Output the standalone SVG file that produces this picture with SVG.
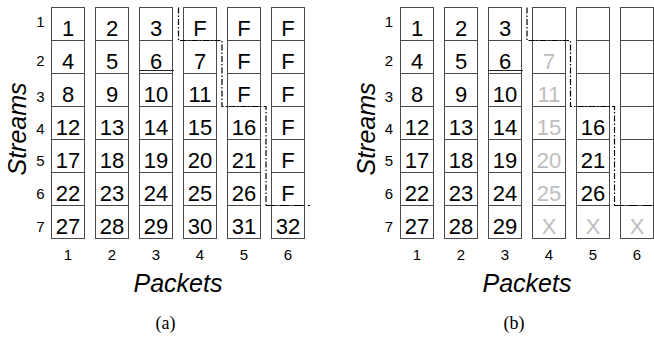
<svg xmlns="http://www.w3.org/2000/svg" width="654" height="337" viewBox="0 0 654 337">
<style>
  .cell { fill: #fff; stroke: #4a4a4a; stroke-width: 1; }
  .num { font-family: "Liberation Sans", Arial, sans-serif; font-size: 22px; fill: #000; text-anchor: middle; }
  .dim { fill: #bdbdbd; }
  .idx { font-family: "Liberation Sans", Arial, sans-serif; font-size: 15px; fill: #000; }
  .row { text-anchor: end; }
  .col { text-anchor: middle; }
  .axis { font-family: "Liberation Sans", Arial, sans-serif; font-size: 25px; font-style: italic; fill: #000; text-anchor: middle; }
  .cap { font-family: "Liberation Serif", "Times New Roman", serif; font-size: 18px; fill: #000; text-anchor: middle; }
  .step { fill: none; stroke: #000; stroke-width: 1.2; stroke-dasharray: 6 2 1.5 2; }
  .tail { fill: none; stroke: #000; stroke-width: 1.2; stroke-dasharray: 9 5; }
  .tick { stroke: #222; stroke-width: 1; }
</style>
<defs>
  <!-- one packet column: seven stream slots -->
  <g id="slots">
    <rect class="cell" x="0" y="7.5" width="33" height="33"/>
    <rect class="cell" x="0" y="40.5" width="33" height="33"/>
    <rect class="cell" x="0" y="73.5" width="33" height="33"/>
    <rect class="cell" x="0" y="106.5" width="33" height="33"/>
    <rect class="cell" x="0" y="139.5" width="33" height="33"/>
    <rect class="cell" x="0" y="172.5" width="33" height="33"/>
    <rect class="cell" x="0" y="205.5" width="33" height="33"/>
  </g>
</defs>

<!-- ===== Panel (a) ===== -->
<g id="a-rows" class="idx row">
  <text x="44.5" y="26.7">1</text>
  <text x="44.5" y="66">2</text>
  <text x="44.5" y="101.7">3</text>
  <text x="44.5" y="133.5">4</text>
  <text x="44.5" y="166.3">5</text>
  <text x="44.5" y="199.3">6</text>
  <text x="44.5" y="232">7</text>
</g>
<g id="a-col1">
  <use href="#slots" x="51.5"/>
  <g class="num">
    <text x="68" y="35.7">1</text><text x="68" y="68.7">4</text><text x="68" y="101.7">8</text>
    <text x="68" y="134.7">12</text><text x="68" y="167.7">17</text><text x="68" y="200.7">22</text><text x="68" y="233.7">27</text>
  </g>
</g>
<g id="a-col2">
  <use href="#slots" x="95.5"/>
  <g class="num">
    <text x="112" y="35.7">2</text><text x="112" y="68.7">5</text><text x="112" y="101.7">9</text>
    <text x="112" y="134.7">13</text><text x="112" y="167.7">18</text><text x="112" y="200.7">23</text><text x="112" y="233.7">28</text>
  </g>
</g>
<g id="a-col3">
  <use href="#slots" x="139.5"/>
  <line class="tick" x1="139" y1="70.5" x2="174" y2="70.5"/>
  <g class="num">
    <text x="156" y="35.7">3</text><text x="156" y="68.7">6</text><text x="156" y="101.7">10</text>
    <text x="156" y="134.7">14</text><text x="156" y="167.7">19</text><text x="156" y="200.7">24</text><text x="156" y="233.7">29</text>
  </g>
</g>
<g id="a-col4">
  <use href="#slots" x="183.5"/>
  <g class="num">
    <text x="200" y="35.7">F</text><text x="200" y="68.7">7</text><text x="200" y="101.7">11</text>
    <text x="200" y="134.7">15</text><text x="200" y="167.7">20</text><text x="200" y="200.7">25</text><text x="200" y="233.7">30</text>
  </g>
</g>
<g id="a-col5">
  <use href="#slots" x="227.5"/>
  <g class="num">
    <text x="244" y="35.7">F</text><text x="244" y="68.7">F</text><text x="244" y="101.7">F</text>
    <text x="244" y="134.7">16</text><text x="244" y="167.7">21</text><text x="244" y="200.7">26</text><text x="244" y="233.7">31</text>
  </g>
</g>
<g id="a-col6">
  <use href="#slots" x="271.5"/>
  <g class="num">
    <text x="288" y="35.7">F</text><text x="288" y="68.7">F</text><text x="288" y="101.7">F</text>
    <text x="288" y="134.7">F</text><text x="288" y="167.7">F</text><text x="288" y="200.7">F</text><text x="288" y="233.7">32</text>
  </g>
</g>
<g id="a-cols" class="idx col">
  <text x="68" y="260">1</text><text x="112" y="260">2</text><text x="156" y="260">3</text>
  <text x="200" y="260">4</text><text x="244" y="260">5</text><text x="288" y="260">6</text>
</g>
<text class="axis" transform="translate(26,129) rotate(-90)">Streams</text>
<text class="axis" x="178" y="291.5">Packets</text>
<text class="cap" x="165.5" y="329">(a)</text>

<!-- ===== Panel (b) ===== -->
<g id="b-rows" class="idx row">
  <text x="393" y="26.7">1</text>
  <text x="393" y="66">2</text>
  <text x="393" y="101.7">3</text>
  <text x="393" y="133.5">4</text>
  <text x="393" y="166.3">5</text>
  <text x="393" y="199.3">6</text>
  <text x="393" y="232">7</text>
</g>
<g id="b-col1">
  <use href="#slots" x="400.5"/>
  <g class="num">
    <text x="417" y="35.7">1</text><text x="417" y="68.7">4</text><text x="417" y="101.7">8</text>
    <text x="417" y="134.7">12</text><text x="417" y="167.7">17</text><text x="417" y="200.7">22</text><text x="417" y="233.7">27</text>
  </g>
</g>
<g id="b-col2">
  <use href="#slots" x="444.5"/>
  <g class="num">
    <text x="461" y="35.7">2</text><text x="461" y="68.7">5</text><text x="461" y="101.7">9</text>
    <text x="461" y="134.7">13</text><text x="461" y="167.7">18</text><text x="461" y="200.7">23</text><text x="461" y="233.7">28</text>
  </g>
</g>
<g id="b-col3">
  <use href="#slots" x="488.5"/>
  <line class="tick" x1="488" y1="70.5" x2="523" y2="70.5"/>
  <g class="num">
    <text x="505" y="35.7">3</text><text x="505" y="68.7">6</text><text x="505" y="101.7">10</text>
    <text x="505" y="134.7">14</text><text x="505" y="167.7">19</text><text x="505" y="200.7">24</text><text x="505" y="233.7">29</text>
  </g>
</g>
<g id="b-col4">
  <use href="#slots" x="532.5"/>
  <g class="num dim">
    <text x="549" y="68.7">7</text><text x="549" y="101.7">11</text>
    <text x="549" y="134.7">15</text><text x="549" y="167.7">20</text><text x="549" y="200.7">25</text><text x="549" y="233.7">X</text>
  </g>
</g>
<g id="b-col5">
  <use href="#slots" x="576.5"/>
  <g class="num">
    <text x="593" y="134.7">16</text><text x="593" y="167.7">21</text><text x="593" y="200.7">26</text>
  </g>
  <text class="num dim" x="593" y="233.7">X</text>
</g>
<g id="b-col6">
  <use href="#slots" x="620.5"/>
  <text class="num dim" x="637" y="233.7">X</text>
</g>
<g id="b-cols" class="idx col">
  <text x="417" y="260">1</text><text x="461" y="260">2</text><text x="505" y="260">3</text>
  <text x="549" y="260">4</text><text x="593" y="260">5</text><text x="637" y="260">6</text>
</g>
<text class="axis" transform="translate(375,129) rotate(-90)">Streams</text>
<text class="axis" x="527" y="291.5">Packets</text>
<text class="cap" x="514" y="329">(b)</text>

<!-- frontier between delivered and pending slots -->
<g id="connectors">
  <path class="step" d="M178.5,7.5 V40.5 H222 V106.5 H266 V205.5"/>
  <path class="tail" d="M266,205.5 H310"/>
  <path class="step" d="M527,7.5 V40.5 H570.5 V106.5 H614.5 V205.5"/>
  <path class="tail" d="M614.5,205.5 H654"/>
</g>
</svg>
